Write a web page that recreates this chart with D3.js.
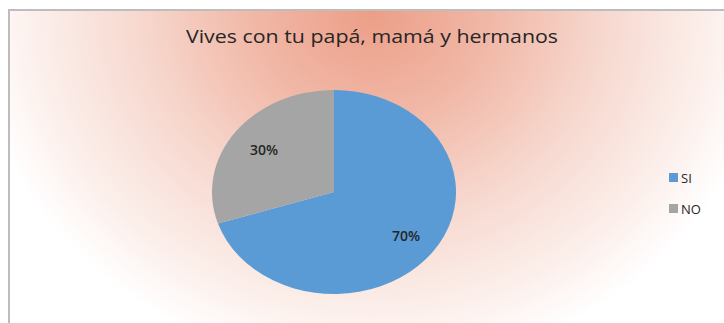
<!DOCTYPE html>
<html>
<head>
<meta charset="utf-8">
<script src="https://cdn.jsdelivr.net/npm/d3@7"></script>
<style>
  body { margin: 0; background: #fff; }
  svg { display: block; }
</style>
</head>
<body>
<svg id="chart"></svg>
<script>
const categories = ['SI', 'NO'];
const values = [70, 30];
const labels = ['70%', '30%'];
const colors = ['#5B9BD5', '#A5A5A5'];
const title = 'Vives con tu papá, mamá y hermanos';

const width = 724;
const height = 323;

const svg = d3.select('#chart')
    .attr('width', width)
    .attr('height', height);

// background gradient (salmon glow from the top centre)
const defs = svg.append('defs');
const grad = defs.append('radialGradient')
    .attr('id', 'bg')
    .attr('gradientUnits', 'userSpaceOnUse')
    .attr('cx', 0).attr('cy', 0).attr('r', 1)
    .attr('gradientTransform', 'translate(372,10) scale(400,360)');
grad.append('stop').attr('offset', 0).attr('stop-color', '#EC9E87');
grad.append('stop').attr('offset', 0.3).attr('stop-color', '#F1B8A7');
grad.append('stop').attr('offset', 0.6).attr('stop-color', '#F7DAD1');
grad.append('stop').attr('offset', 0.85).attr('stop-color', '#FCF0EC');
grad.append('stop').attr('offset', 1).attr('stop-color', '#FFFFFF');

svg.append('rect')
    .attr('x', 9).attr('y', 10)
    .attr('width', width).attr('height', height)
    .attr('fill', 'url(#bg)')
    .attr('stroke', '#BDBDBD')
    .attr('stroke-width', 2);

svg.append('text')
    .attr('x', 372)
    .attr('y', 43)
    .attr('text-anchor', 'middle')
    .attr('textLength', 372)
    .attr('lengthAdjust', 'spacingAndGlyphs')
    .style('font-family', '"Open Sans", sans-serif')
    .style('font-size', '18px')
    .style('fill', '#262626')
    .text(title);

// pie, drawn as a slightly squashed ellipse
const rx = 122, ry = 102;
const cx = 334, cy = 192;

const pie = d3.pie().sort(null).value(d => d);
const arc = d3.arc().innerRadius(0).outerRadius(rx);
const labelArc = d3.arc().innerRadius(rx * 0.72).outerRadius(rx * 0.72);

const slices = pie(values);

const g = svg.append('g')
    .attr('transform', `translate(${cx},${cy}) scale(1,${ry / rx})`);

g.selectAll('path')
    .data(slices)
    .enter().append('path')
    .attr('d', arc)
    .style('fill', (d, i) => colors[i]);

svg.append('g')
    .attr('transform', `translate(${cx},${cy})`)
    .selectAll('text')
    .data(slices)
    .enter().append('text')
    .attr('x', d => labelArc.centroid(d)[0] + 1)
    .attr('y', d => labelArc.centroid(d)[1] * ry / rx + 1)
    .attr('dy', '0.35em')
    .attr('text-anchor', 'middle')
    .style('font-family', '"Open Sans", sans-serif')
    .style('font-size', '14px')
    .style('font-weight', '600')
    .style('fill', '#262626')
    .text((d, i) => labels[i]);

// legend
const legend = svg.append('g').attr('transform', 'translate(669,173)');
const item = legend.selectAll('g')
    .data(categories)
    .enter().append('g')
    .attr('transform', (d, i) => `translate(0,${i * 31})`);
item.append('rect')
    .attr('width', 9).attr('height', 9)
    .style('fill', (d, i) => colors[i]);
item.append('text')
    .attr('x', 12).attr('y', 10)
    .style('font-family', '"Open Sans", sans-serif')
    .style('font-size', '13px')
    .style('fill', '#262626')
    .text(d => d);
</script>
</body>
</html>
